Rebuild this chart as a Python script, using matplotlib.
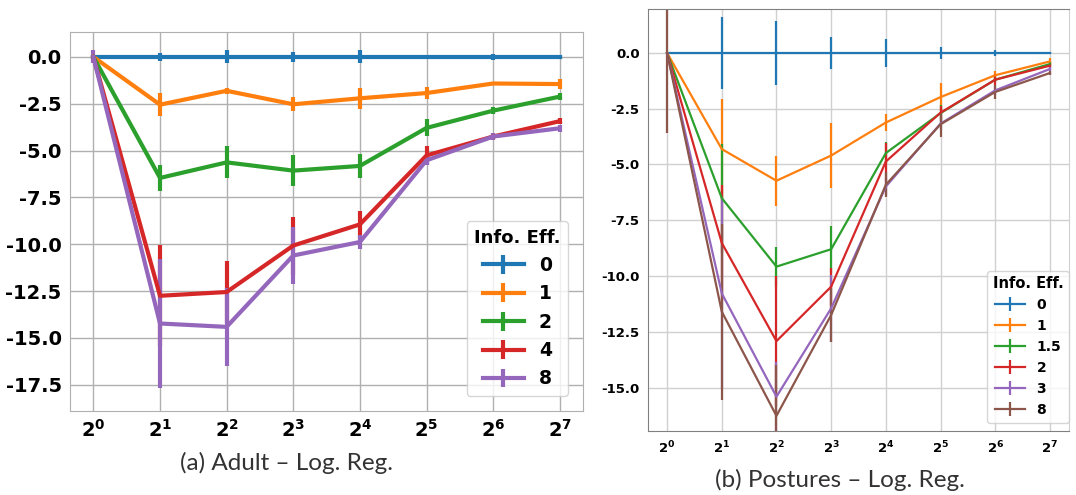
import numpy as np
import matplotlib
matplotlib.use('Agg')
import matplotlib.pyplot as plt

xs = [1, 2, 4, 8, 16, 32, 64, 128]
xlabels = ['$\\mathbf{2^{%d}}$' % i for i in range(8)]

# (a) Adult - Log. Reg.
adultLabels = ['0', '1', '2', '4', '8']
adultMean = [
    [0, 0, 0, 0, 0, 0, 0, 0],
    [0, -2.55, -1.81, -2.53, -2.21, -1.93, -1.42, -1.45],
    [0, -6.46, -5.63, -6.07, -5.82, -3.79, -2.87, -2.12],
    [0, -12.75, -12.55, -10.07, -8.94, -5.26, -4.25, -3.43],
    [0, -14.23, -14.41, -10.6, -9.88, -5.52, -4.25, -3.81],
]
adultErr = [
    [0, 0.2, 0.35, 0.25, 0.35, 0.1, 0.15, 0.1],
    [0, 0.6, 0.15, 0.38, 0.55, 0.3, 0.05, 0.25],
    [0, 0.7, 0.86, 0.84, 0.65, 0.45, 0.18, 0.2],
    [0, 2.7, 1.65, 1.55, 0.7, 0.5, 0.2, 0.15],
    [0.35, 3.45, 2.07, 1.5, 0.4, 0.25, 0.2, 0.2],
]

# (b) Postures - Log. Reg.
postLabels = ['0', '1', '1.5', '2', '3', '8']
postMean = [
    [0, 0, 0, 0, 0, 0, 0, 0],
    [0, -4.31, -5.73, -4.6, -3.12, -1.98, -1.0, -0.38],
    [0, -6.51, -9.58, -8.8, -4.49, -2.7, -1.2, -0.5],
    [0, -8.52, -12.92, -10.48, -4.87, -2.68, -1.2, -0.57],
    [0, -10.78, -15.41, -11.45, -5.99, -3.17, -1.68, -0.72],
    [0, -11.6, -16.27, -11.75, -5.91, -3.2, -1.75, -0.9],
]
postErr = [
    [0, 1.62, 1.45, 0.72, 0.62, 0.28, 0.12, 0.05],
    [0, 2.24, 1.13, 1.46, 0.4, 0.63, 0.2, 0.15],
    [0, 2.44, 0.87, 1.05, 0.5, 0.38, 0.1, 0.1],
    [0, 2.6, 2.9, 0.84, 0.85, 0.3, 0.25, 0.1],
    [0, 4.3, 1.56, 1.5, 0.4, 0.3, 0.2, 0.1],
    [3.6, 3.95, 2.3, 1.2, 0.55, 0.55, 0.3, 0.1],
]

colors = ['#1f77b4', '#ff7f0e', '#2ca02c', '#d62728', '#9467bd', '#8c564b']

fig = plt.figure(figsize=(10.76, 4.95), dpi=100)
ax1 = fig.add_axes([0.0651, 0.1697, 0.4768, 0.7657])
ax2 = fig.add_axes([0.6022, 0.1293, 0.3913, 0.8525])


def style(ax, gridcolor, size):
    ax.set_xscale('log', base=2)
    ax.set_xticks(xs)
    ax.set_xticklabels(xlabels)
    ax.minorticks_off()
    ax.grid(True, color=gridcolor, linewidth=1)
    ax.set_axisbelow(True)
    for s in ax.spines.values():
        s.set_color(gridcolor)
    ax.tick_params(length=0, labelsize=size, pad=6)


for i in range(len(adultLabels)):
    ax1.errorbar(xs, adultMean[i], yerr=adultErr[i], color=colors[i],
                 lw=3, elinewidth=3, label=adultLabels[i])
style(ax1, '#b0b0b0', 14)
ax1.set_ylim(-18.9, 1.33)
yt1 = [0, -2.5, -5, -7.5, -10, -12.5, -15, -17.5]
ax1.set_yticks(yt1)
ax1.set_yticklabels(['%.1f' % v for v in yt1], fontweight='bold')
leg1 = ax1.legend(title='Info. Eff.', loc='lower right', handlelength=2.2,
                  prop={'weight': 'bold', 'size': 13.5},
                  title_fontproperties={'weight': 'bold', 'size': 13},
                  borderaxespad=0.8)

for i in range(len(postLabels)):
    ax2.errorbar(xs, postMean[i], yerr=postErr[i], color=colors[i],
                 lw=1.6, elinewidth=1.6, label=postLabels[i])
style(ax2, '#d0d0d0', 9.5)
for s in ['left', 'bottom', 'top']:
    ax2.spines[s].set_color('#808080')
ax2.set_ylim(-16.95, 1.97)
yt2 = [0, -2.5, -5, -7.5, -10, -12.5, -15]
ax2.set_yticks(yt2)
ax2.set_yticklabels(['%.1f' % v for v in yt2], fontweight='bold')
leg2 = ax2.legend(title='Info. Eff.', loc='lower right', handlelength=2.2,
                  prop={'weight': 'bold', 'size': 10},
                  title_fontproperties={'weight': 'bold', 'size': 10.5},
                  bbox_to_anchor=(1.0, 0.02), bbox_transform=ax2.transAxes,
                  borderaxespad=0.0)

fig.text(287 / 1076, 1 - 463 / 495, '(a) Adult – Log. Reg.', ha='center', va='center',
         fontsize=17.5, family='Lato', color='#333333')
fig.text(840 / 1076, 1 - 480 / 495, '(b) Postures – Log. Reg.', ha='center', va='center',
         fontsize=17.5, family='Lato', color='#333333')

fig.savefig('out.png', dpi=100)
